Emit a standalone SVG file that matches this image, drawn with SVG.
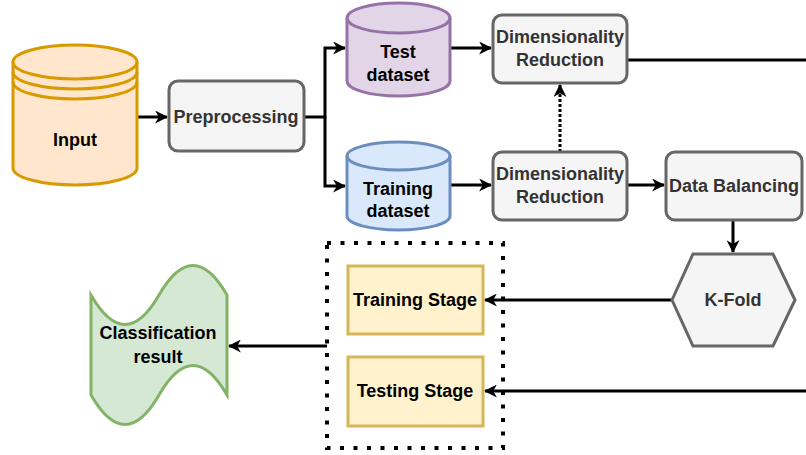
<svg xmlns="http://www.w3.org/2000/svg" width="806" height="455" viewBox="0 0 806 455">
<defs>
<marker id="arrB" viewBox="0 0 12 12" refX="11" refY="6" markerWidth="13" markerHeight="13" markerUnits="userSpaceOnUse" orient="auto">
<path d="M0,0 L12,6 L0,12 L3.5,6 Z" fill="#000"/>
</marker>
<style>
text{font-family:"Liberation Sans",Arial,sans-serif;font-weight:bold;font-size:18px;text-anchor:middle;}
.dark{fill:#000;}
.grey{fill:#333333;}
.gbox{fill:#f5f5f5;stroke:#666666;stroke-width:3;}
.ybox{fill:#fff2cc;stroke:#d6b656;stroke-width:3;}
.edge{fill:none;stroke:#000;stroke-width:3;}
</style>
</defs>
<g id="connectors">
<path class="edge" d="M137,117 H167" marker-end="url(#arrB)"/>
<path class="edge" d="M304,117 H325 V48 H345" marker-end="url(#arrB)"/>
<path class="edge" d="M325,117 V186 H345" marker-end="url(#arrB)"/>
<path class="edge" d="M450,48 H491" marker-end="url(#arrB)"/>
<path class="edge" d="M627,60 H806"/>
<path class="edge" d="M450,185 H491" marker-end="url(#arrB)"/>
<path class="edge" d="M560,152 V85" stroke-dasharray="3 2" marker-end="url(#arrB)"/>
<path class="edge" d="M627,185 H664" marker-end="url(#arrB)"/>
<path class="edge" d="M733,220 V252" marker-end="url(#arrB)"/>
<path class="edge" d="M672,300 H485" marker-end="url(#arrB)"/>
<path class="edge" d="M806,391 H485" marker-end="url(#arrB)"/>
<path class="edge" d="M327,346 H229" marker-end="url(#arrB)"/>
</g>
<g id="input">
<path d="M13,62 A62,17 0 0 1 137,62 V168 A62,17 0 0 1 13,168 Z" fill="#ffe6cc" stroke="#d79b00" stroke-width="3"/>
<path d="M13,62 A62,17 0 0 0 137,62 M13,72 A62,17 0 0 0 137,72 M13,82 A62,17 0 0 0 137,82" fill="none" stroke="#d79b00" stroke-width="3"/>
<text class="dark" x="75" y="146">Input</text>
</g>
<g id="preprocessing">
<rect class="gbox" x="169" y="81" width="135" height="70" rx="9"/>
<text class="grey" x="236" y="123">Preprocessing</text>
</g>
<g id="test-dataset">
<path d="M347,18 A51.5,15 0 0 1 450,18 V81 A51.5,15 0 0 1 347,81 Z" fill="#e1d5e7" stroke="#9673a6" stroke-width="3"/>
<path d="M347,18 A51.5,15 0 0 0 450,18" fill="none" stroke="#9673a6" stroke-width="3"/>
<text class="dark" x="398" y="58">Test</text>
<text class="dark" x="398" y="81">dataset</text>
</g>
<g id="training-dataset">
<path d="M347,156 A51.5,14 0 0 1 450,156 V216 A51.5,14 0 0 1 347,216 Z" fill="#dae8fc" stroke="#6c8ebf" stroke-width="3"/>
<path d="M347,156 A51.5,14 0 0 0 450,156" fill="none" stroke="#6c8ebf" stroke-width="3"/>
<text class="dark" x="398" y="195">Training</text>
<text class="dark" x="398" y="217">dataset</text>
</g>
<g id="dr-test">
<rect class="gbox" x="493" y="15" width="134" height="68" rx="9"/>
<text class="grey" x="560" y="43">Dimensionality</text>
<text class="grey" x="560" y="66">Reduction</text>
</g>
<g id="dr-train">
<rect class="gbox" x="493" y="152" width="134" height="68" rx="9"/>
<text class="grey" x="560" y="180">Dimensionality</text>
<text class="grey" x="560" y="203">Reduction</text>
</g>
<g id="data-balancing">
<rect class="gbox" x="666" y="152" width="136" height="68" rx="9"/>
<text class="grey" x="734" y="192">Data Balancing</text>
</g>
<g id="kfold">
<polygon class="gbox" points="672,300 693,254 773,254 795,300 773,346 693,346"/>
<text class="grey" x="733" y="306">K-Fold</text>
</g>
<g id="stages-container">
<rect x="327" y="243" width="176" height="205" fill="none" stroke="#000" stroke-width="4" stroke-dasharray="4 9.5"/>
</g>
<g id="training-stage">
<rect class="ybox" x="348" y="266" width="135" height="68"/>
<text class="dark" x="415" y="306">Training Stage</text>
</g>
<g id="testing-stage">
<rect class="ybox" x="348" y="357" width="135" height="69"/>
<text class="dark" x="415" y="397">Testing Stage</text>
</g>
<g id="classification-result">
<path d="M91,295 Q125,354 159,295 Q193,236 227,295 V395 Q193,336 159,395 Q125,454 91,395 Z" fill="#d5e8d4" stroke="#82b366" stroke-width="3"/>
<text class="dark" x="158" y="339">Classification</text>
<text class="dark" x="158" y="363">result</text>
</g>
</svg>
